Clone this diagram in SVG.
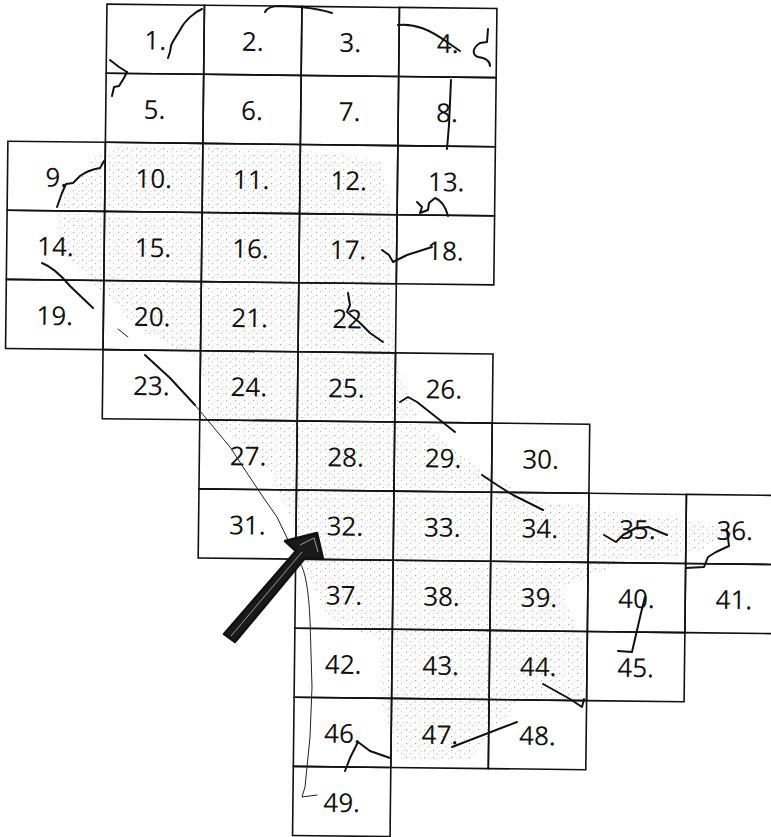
<svg xmlns="http://www.w3.org/2000/svg" width="771" height="837" viewBox="0 0 771 837">
<style>
.cell rect{fill:none;stroke:#111;stroke-width:1.6}
.cell text{font-family:"Open Sans","Liberation Sans",sans-serif;font-size:26px;text-anchor:middle;fill:#111}
.mark{fill:none;stroke:#111;stroke-width:2;stroke-linecap:round;stroke-linejoin:round}
.thin{fill:none;stroke:#222;stroke-width:1;stroke-linecap:round}
</style>
<defs>
<pattern id="stip" width="9" height="7" patternUnits="userSpaceOnUse">
<rect x="1" y="1" width="1.2" height="1.2" fill="#666"/>
<rect x="5" y="4" width="1" height="1" fill="#888"/>
<rect x="7" y="2" width="0.8" height="0.8" fill="#999"/>
</pattern>
</defs>
<rect width="771" height="837" fill="#fff"/>
<g id="shading" opacity="0.55">
<path fill="url(#stip)" d="M100,150 L140,146 L300,150 L380,160 L395,220 L390,280 L395,360 L420,420 L480,470 L540,500 L610,510 L700,522 L740,530 L690,555 L620,562 L560,590 L590,660 L580,700 L520,700 L470,760 L400,760 L380,700 L380,640 L330,620 L310,580 L300,540 L270,470 L210,420 L200,360 L140,330 L100,290 L60,250 L55,210 Z"/>
</g>
<g id="grid" transform="rotate(0.65)">
<g class="cell" id="n1"><rect x="107" y="2.9" width="97.5" height="69.1"/><text x="155.75" y="47.9">1.</text></g>
<g class="cell" id="n2"><rect x="204.5" y="2.9" width="97.5" height="69.1"/><text x="253.25" y="47.9">2.</text></g>
<g class="cell" id="n3"><rect x="302" y="2.9" width="97.5" height="69.1"/><text x="350.75" y="47.9">3.</text></g>
<g class="cell" id="n4"><rect x="399.5" y="2.9" width="97.5" height="69.1"/><text x="448.25" y="47.9">4.</text></g>
<g class="cell" id="n5"><rect x="107" y="72" width="97.5" height="69.1"/><text x="155.75" y="117">5.</text></g>
<g class="cell" id="n6"><rect x="204.5" y="72" width="97.5" height="69.1"/><text x="253.25" y="117">6.</text></g>
<g class="cell" id="n7"><rect x="302" y="72" width="97.5" height="69.1"/><text x="350.75" y="117">7.</text></g>
<g class="cell" id="n8"><rect x="399.5" y="72" width="97.5" height="69.1"/><text x="448.25" y="117">8.</text></g>
<g class="cell" id="n9"><rect x="9.5" y="141.1" width="97.5" height="69.1"/><text x="58.25" y="186.1">9.</text></g>
<g class="cell" id="n10"><rect x="107" y="141.1" width="97.5" height="69.1"/><text x="155.75" y="186.1">10.</text></g>
<g class="cell" id="n11"><rect x="204.5" y="141.1" width="97.5" height="69.1"/><text x="253.25" y="186.1">11.</text></g>
<g class="cell" id="n12"><rect x="302" y="141.1" width="97.5" height="69.1"/><text x="350.75" y="186.1">12.</text></g>
<g class="cell" id="n13"><rect x="399.5" y="141.1" width="97.5" height="69.1"/><text x="448.25" y="186.1">13.</text></g>
<g class="cell" id="n14"><rect x="9.5" y="210.2" width="97.5" height="69.1"/><text x="58.25" y="255.2">14.</text></g>
<g class="cell" id="n15"><rect x="107" y="210.2" width="97.5" height="69.1"/><text x="155.75" y="255.2">15.</text></g>
<g class="cell" id="n16"><rect x="204.5" y="210.2" width="97.5" height="69.1"/><text x="253.25" y="255.2">16.</text></g>
<g class="cell" id="n17"><rect x="302" y="210.2" width="97.5" height="69.1"/><text x="350.75" y="255.2">17.</text></g>
<g class="cell" id="n18"><rect x="399.5" y="210.2" width="97.5" height="69.1"/><text x="448.25" y="255.2">18.</text></g>
<g class="cell" id="n19"><rect x="9.5" y="279.3" width="97.5" height="69.1"/><text x="58.25" y="324.3">19.</text></g>
<g class="cell" id="n20"><rect x="107" y="279.3" width="97.5" height="69.1"/><text x="155.75" y="324.3">20.</text></g>
<g class="cell" id="n21"><rect x="204.5" y="279.3" width="97.5" height="69.1"/><text x="253.25" y="324.3">21.</text></g>
<g class="cell" id="n22"><rect x="302" y="279.3" width="97.5" height="69.1"/><text x="350.75" y="324.3">22</text></g>
<g class="cell" id="n23"><rect x="107" y="348.4" width="97.5" height="69.1"/><text x="155.75" y="393.4">23.</text></g>
<g class="cell" id="n24"><rect x="204.5" y="348.4" width="97.5" height="69.1"/><text x="253.25" y="393.4">24.</text></g>
<g class="cell" id="n25"><rect x="302" y="348.4" width="97.5" height="69.1"/><text x="350.75" y="393.4">25.</text></g>
<g class="cell" id="n26"><rect x="399.5" y="348.4" width="97.5" height="69.1"/><text x="448.25" y="393.4">26.</text></g>
<g class="cell" id="n27"><rect x="204.5" y="417.5" width="97.5" height="69.1"/><text x="253.25" y="462.5">27.</text></g>
<g class="cell" id="n28"><rect x="302" y="417.5" width="97.5" height="69.1"/><text x="350.75" y="462.5">28.</text></g>
<g class="cell" id="n29"><rect x="399.5" y="417.5" width="97.5" height="69.1"/><text x="448.25" y="462.5">29.</text></g>
<g class="cell" id="n30"><rect x="497" y="417.5" width="97.5" height="69.1"/><text x="545.75" y="462.5">30.</text></g>
<g class="cell" id="n31"><rect x="204.5" y="486.6" width="97.5" height="69.1"/><text x="253.25" y="531.6">31.</text></g>
<g class="cell" id="n32"><rect x="302" y="486.6" width="97.5" height="69.1"/><text x="350.75" y="531.6">32.</text></g>
<g class="cell" id="n33"><rect x="399.5" y="486.6" width="97.5" height="69.1"/><text x="448.25" y="531.6">33.</text></g>
<g class="cell" id="n34"><rect x="497" y="486.6" width="97.5" height="69.1"/><text x="545.75" y="531.6">34.</text></g>
<g class="cell" id="n35"><rect x="594.5" y="486.6" width="97.5" height="69.1"/><text x="643.25" y="531.6">35.</text></g>
<g class="cell" id="n36"><rect x="692" y="486.6" width="97.5" height="69.1"/><text x="740.75" y="531.6">36.</text></g>
<g class="cell" id="n37"><rect x="302" y="555.7" width="97.5" height="69.1"/><text x="350.75" y="600.7">37.</text></g>
<g class="cell" id="n38"><rect x="399.5" y="555.7" width="97.5" height="69.1"/><text x="448.25" y="600.7">38.</text></g>
<g class="cell" id="n39"><rect x="497" y="555.7" width="97.5" height="69.1"/><text x="545.75" y="600.7">39.</text></g>
<g class="cell" id="n40"><rect x="594.5" y="555.7" width="97.5" height="69.1"/><text x="643.25" y="600.7">40.</text></g>
<g class="cell" id="n41"><rect x="692" y="555.7" width="97.5" height="69.1"/><text x="740.75" y="600.7">41.</text></g>
<g class="cell" id="n42"><rect x="302" y="624.8" width="97.5" height="69.1"/><text x="350.75" y="669.8">42.</text></g>
<g class="cell" id="n43"><rect x="399.5" y="624.8" width="97.5" height="69.1"/><text x="448.25" y="669.8">43.</text></g>
<g class="cell" id="n44"><rect x="497" y="624.8" width="97.5" height="69.1"/><text x="545.75" y="669.8">44.</text></g>
<g class="cell" id="n45"><rect x="594.5" y="624.8" width="97.5" height="69.1"/><text x="643.25" y="669.8">45.</text></g>
<g class="cell" id="n46"><rect x="302" y="693.9" width="97.5" height="69.1"/><text x="350.75" y="738.9">46.</text></g>
<g class="cell" id="n47"><rect x="399.5" y="693.9" width="97.5" height="69.1"/><text x="448.25" y="738.9">47.</text></g>
<g class="cell" id="n48"><rect x="497" y="693.9" width="97.5" height="69.1"/><text x="545.75" y="738.9">48.</text></g>
<g class="cell" id="n49"><rect x="302" y="763" width="97.5" height="69.1"/><text x="350.75" y="808">49.</text></g>
</g>
<g id="connectors">
<path class="mark" d="M202,9 C195,12 185,20 180,30 C176,37 172,42 171,46 L170,52 L168,58"/>
<path class="mark" stroke-width="3" d="M110,60 L119,67 L127,72"/>
<path class="mark" d="M127,72 L124,78 L119,86 L114,87 L112,96"/>
<path class="mark" d="M265,12 Q268,6 280,6 L300,7 Q320,9 332,13"/>
<path class="mark" d="M398,25 C415,23 430,30 447,42 L460,51"/>
<path class="mark" d="M488,29 L487,42 L480,43 C472,48 472,55 478,57 C485,58 490,60 490,66"/>
<path class="mark" d="M451,80 L449,125 L447,149"/>
<path class="mark" d="M417,202 L422,207 L420,213 L428,210 L429,203 L435,198 Q444,201 448,216"/>
<path class="mark" d="M104,161 L100,168 Q88,170 80,176 L73,183 L66,184 L62,193 L57,207"/>
<path class="mark" d="M42,263 Q55,268 70,286 L93,308"/>
<path class="mark" d="M382,250 L389,255 L393,262 L407,255 L432,247"/>
<path class="mark" d="M348,293 L350,305 L347,312 Q360,322 370,333 L383,342"/>
<path class="mark" d="M400,402 L408,397 L417,402 L455,432"/>
<path class="thin" d="M118,329 L128,337"/>
<path class="mark" d="M145,355 L170,378 L195,405"/>
<path class="thin" d="M195,405 L230,447 L247,473 L263,497 L277,517 L288,540"/>
<path class="thin" d="M300,563 Q308,575 310,620 L312,687 L310,737 L305,787 L302,797 L317,795"/>
<path class="mark" d="M482,475 L497,485 L513,495 L543,510"/>
<path class="mark" d="M604,535 L616,542 L623,535 L636,528 L648,527 L667,535"/>
<path class="mark" d="M727,530 L729,546 L716,552 L708,557 L704,567 L686,568"/>
<path class="mark" d="M645,597 L641,613 L632,652 L618,651"/>
<path class="mark" d="M543,684 L570,699 L582,707 L584,699"/>
<path class="mark" d="M345,771 L350,758 L358,742 L370,751 L390,758"/>
<path class="mark" d="M452,747 L517,722"/>
</g>
<g id="arrow">
<polygon points="224,634 296,551 285,541 317,533 323,559 305,558 235,642" fill="#1a1a1a" stroke="#111" stroke-width="2.5" stroke-linejoin="round"/>
<path d="M231,636 L302,552 M300,545 L314,538 L318,552" fill="none" stroke="#fff" stroke-width="0.8" opacity="0.7"/>
</g>
</svg>
